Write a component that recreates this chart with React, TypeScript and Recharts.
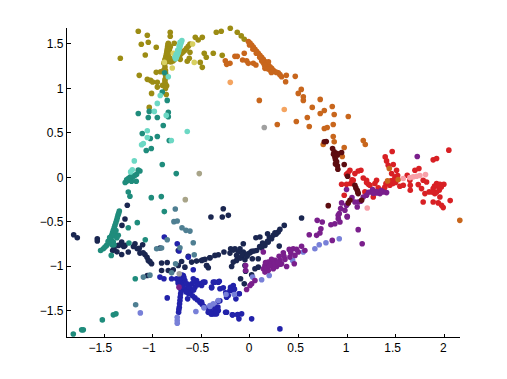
import React from "react";
import { ScatterChart, Scatter, XAxis, YAxis } from "recharts";

type P = [number, number];

const xTicks = [-1.5, -1, -0.5, 0, 0.5, 1, 1.5, 2];
const yTicks = [-1.5, -1, -0.5, 0, 0.5, 1, 1.5];

const navy: P[] = [
  [-0.275,-0.354],[-0.402,-0.448],[-0.285,-0.448],[-0.223,-0.429],[0.531,-0.459],[0.353,-0.542],[0.308,-0.587],[0.291,-0.617],[0.257,-0.624],[0.181,-0.636],[0.102,-0.673],[0.061,-0.681],[-0.069,-0.748],[0.301,-0.775],[0.24,-0.654],[0.222,-0.692],[0.188,-0.73],[0.154,-0.767],[0.12,-0.797],[0.068,-0.824],[0.017,-0.835],[-0.018,-0.861],[-0.069,-0.842],[-0.103,-0.805],[-0.155,-0.805],[-0.199,-0.805],[-0.206,-0.854],[-0.268,-0.842],[-0.326,-0.872],[-0.361,-0.88],[-0.412,-0.906],[-0.464,-0.925],[-0.498,-0.936],[-0.446,-0.993],[-0.429,-1.019],[-0.138,-0.88],[-0.086,-0.899],[-0.138,-0.936],[-0.172,-0.955],[-0.189,-1.004],[-0.052,-0.929],[0.024,-0.918],[0.085,-0.918],[-0.052,-0.993],[-0.045,-1.057],[0.051,-1.03],[0.085,-1.012],[-0.097,-1.143],[-0.059,-1.2],[0.017,-1.098],
  [-1.815,-0.647],[-1.778,-0.681],[-1.572,-0.692],[-1.572,-0.718],[-1.263,-0.316],[-1.287,-0.47],[-1.318,-0.542],[-1.321,-0.73],[-1.287,-0.767],[-1.356,-0.767],[-1.414,-0.824],[-1.321,-0.869],[-1.253,-0.842],[-1.184,-0.748],[-1.105,-0.76],[-1.16,-0.805],[-1.133,-0.854],[-1.081,-0.869],[-1.047,-0.936],[-1.013,-0.974],[-1.057,-1.106],[-0.91,-0.966],[-0.852,-0.959],[-0.704,-0.948],[-0.635,-0.891],[-0.738,-0.824],[-0.927,-0.797],[-0.91,-1.049],[-0.841,-1.049],[-0.79,-1.042],[-0.738,-0.993],[-0.67,-1.012],[-0.601,-0.955],[-0.55,-0.944],[-0.481,-0.929],[-0.447,-0.993],[-0.413,-0.906],
  [0.18,-0.72],[0.1,-0.78],[0.04,-0.83],[0,-0.85],[-0.04,-0.87],[-0.12,-0.84],[-0.17,-0.82],[-0.1,-0.91],[-0.08,-0.87],[-0.03,-0.89],[0.13,-0.74],[0.27,-0.64],[0.2,-0.68],[-1.33,-0.76],[-1.3,-0.78],[-1.4,-0.8],[-1.37,-0.84],[-1.2,-0.78],[-1.14,-0.8],[-1.1,-0.85],[-1.06,-0.9],[-1.03,-0.95],
];

const blue: P[] = [
  [-0.481,-1.181],[-0.498,-1.218],[-0.378,-1.181],[-0.326,-1.181],[-0.395,-1.245],[-0.309,-1.256],[-0.275,-1.245],[-0.172,-1.218],[-0.206,-1.275],[-0.241,-1.35],[-0.11,-1.312],[-0.145,-1.369],[-0.498,-1.406],[-0.429,-1.482],[-0.395,-1.538],[-0.361,-1.538],[-0.344,-1.463],[-0.326,-1.5],[-0.241,-1.519],[-0.182,-1.549],[-0.127,-1.546],[-0.086,-1.538],[-0.114,-1.594],[0.017,-1.594],[0.308,-1.707],
  [-0.882,-0.673],[-0.749,-0.748],[-0.731,-0.831],[-0.635,-0.899],[-0.584,-1.042],[-0.927,-1.124],[-0.886,-1.143],[-0.807,-1.143],[-0.852,-1.358],
  [-0.694,-1.162],[-0.704,-1.237],[-0.714,-1.312],[-0.721,-1.388],[-0.728,-1.463],[-0.735,-1.519],[-0.699,-1.2],[-0.709,-1.275],[-0.718,-1.35],[-0.725,-1.425],[-0.732,-1.49],
  [-0.756,-1.143],[-0.714,-1.2],[-0.67,-1.256],[-0.618,-1.312],[-0.567,-1.358],[-0.515,-1.406],[-0.474,-1.455],[-0.735,-1.17],[-0.692,-1.228],[-0.644,-1.284],[-0.592,-1.335],[-0.541,-1.382],[-0.494,-1.43],
  [-0.464,-1.181],[-0.515,-1.2],[-0.567,-1.237],[-0.601,-1.275],[-0.635,-1.305],[-0.55,-1.162],[-0.584,-1.143],[-0.67,-1.162],[-0.642,-1.369],[-0.687,-1.106],[-0.395,-1.237],[-0.361,-1.181],[-0.316,-1.17],[-0.43,-1.519],[-0.378,-1.538],[-0.344,-1.538],[-0.327,-1.395],[-0.251,-1.519],[-0.186,-1.275],[-0.224,-1.331],[-0.179,-1.549],[-0.128,-1.549],[-0.111,-1.312],
  [-0.7,-1.1],[-0.72,-1.14],[-0.74,-1.19],[-0.68,-1.13],[-0.65,-1.2],[-0.63,-1.23],[-0.6,-1.2],[-0.57,-1.18],[-0.54,-1.21],[-0.49,-1.19],[-0.62,-1.25],[-0.58,-1.27],[-0.66,-1.29],[-0.41,-1.5],[-0.36,-1.5],[-0.33,-1.46],[-0.37,-1.46],[-0.4,-1.54],[-0.25,-1.3],[-0.2,-1.24],[-0.16,-1.26],[-0.31,-1.39],
];

const lightBlue: P[] = [
  [0.919,-0.692],[0.782,-0.737],[0.713,-0.76],[0.668,-0.805],[0.548,-0.842],[0.439,-0.936],[0.198,-1.106],[0.12,-1.154],[0.027,-1.124],[-0.162,-1.32],[-0.247,-1.32],[-0.326,-1.388],[-0.378,-1.425],[-0.412,-1.444],[-0.474,-1.47],[-0.749,-1.576],[-0.749,-1.613],[-0.749,-1.643],[-0.557,-1.512],[-1.129,-1.527],[-0.412,-1.455],
];

const slate: P[] = [
  [-0.769,-0.357],[-0.783,-0.5],[-0.749,-0.493],[-0.7,-0.568],[-0.659,-0.598],[-0.618,-0.606],[-0.584,-0.737],[-0.574,-0.872],[-0.852,-0.703],[-0.961,-0.805],[-0.91,-0.797],[-0.721,-0.794],[-1.098,-1.124],[-1.03,-1.102],[-1.177,-1.436],[-0.766,-0.974],[-0.807,-1.076],
];

const olive: P[] = [
  [-1.335,1.339],[-1.15,1.643],[-1.057,1.598],[-1.119,1.497],[-1.047,1.519],[-1.078,1.376],[-0.965,1.463],[-0.821,1.632],[-0.821,1.587],[-0.78,1.508],[-0.563,1.575],[-0.533,1.545],[-0.491,1.575],[-0.347,1.632],[-0.296,1.643],[-0.203,1.677],[-0.131,1.632],[-0.09,1.591],[-0.059,1.553],[-0.378,1.395],[-0.286,1.372],[-0.471,1.395],[-0.45,1.35],[-0.512,1.293],[-0.491,1.237],[-0.618,1.406],[-0.625,1.339],[-0.646,1.305],[-0.718,1.327],
  [-0.841,1.508],[-0.848,1.47],[-0.852,1.433],[-0.858,1.395],[-0.865,1.357],[-0.876,1.32],[-0.886,1.282],[-0.831,1.414],[-0.841,1.357],[-0.824,1.339],
  [-0.618,1.5],[-0.653,1.451],[-0.687,1.414],[-0.721,1.376],[-0.756,1.35],[-0.79,1.312],[-0.824,1.301],
  [-0.92,1.188],[-0.965,1.181],[-1.14,1.147],[-1.057,1.102],[-1.023,1.09],[-1.002,1.072],[-0.954,1.068],[-0.954,1.015],[-0.9,1.034],[-0.858,1.03],[-0.865,1.124],[-0.869,1.169],[-0.876,1.075],[-0.886,1.207],[-1.013,0.944],[-0.862,0.932],[-1.037,0.786],
  [-0.845,1.49],[-0.85,1.45],[-0.855,1.415],[-0.862,1.375],[-0.87,1.34],[-0.88,1.3],[-0.82,1.47],[-0.83,1.44],[-0.84,1.39],[-0.85,1.33],[-0.86,1.3],[-0.635,1.475],[-0.67,1.43],[-0.704,1.395],[-0.738,1.36],[-0.773,1.33],[-0.81,1.3],[-0.875,1.24],[-0.87,1.2],[-0.87,1.15],[-0.875,1.1],[-0.87,1.05],[-0.87,1],
];

const paleYellow: P[] = [[-0.591,1.5],[-0.79,1.395],[-0.882,1.293],[-0.8,1.23],[-0.574,1.293]];

const teal: P[] = [
  [-0.879,1.177],[-0.903,0.959],[-0.852,0.865],[-1.15,0.718],[-1.037,0.741],[-1.047,0.673],[-0.954,0.673],[-0.841,0.73],[-0.841,0.681],[-0.893,0.583],[-1.109,0.493],[-1.026,0.436],[-0.954,0.459],[-0.831,0.414],[-1.068,0.301],[-1.016,0.323],[-0.903,0.143],[-0.759,0.041],[-1.133,0.071],[-1.167,0.034],[-1.201,0.011],[-1.253,-0.015],
  [-1.345,-0.38],[-1.359,-0.429],[-1.373,-0.485],[-1.39,-0.542],[-1.407,-0.598],[-1.424,-0.654],[-1.441,-0.711],[-1.476,-0.767],[-1.51,-0.805],[-1.538,-0.824],[-1.39,-0.636],[-1.356,-0.654],[-1.407,-0.73],[-1.428,-0.88],[-1.253,-0.568],[-1.16,-0.511],[-1.246,-0.741],[-1.078,-0.703],[-1.016,-0.23],[-0.913,-0.218],[-0.882,-0.387],[-1.253,-0.166],[-1.236,-0.214],[-1.27,-0.045],[-1.171,-0.045],[-1.181,-1.143],[-1.52,-1.606],[-1.407,-1.549],[-1.38,-1.538],[-1.733,-1.718],[-1.716,-1.718],[-1.819,-1.764],[-1.219,-0.045],
  [-1.352,-0.405],[-1.366,-0.457],[-1.381,-0.513],[-1.398,-0.57],[-1.415,-0.626],[-1.432,-0.682],[-1.458,-0.74],[-1.493,-0.786],[-1.38,-0.6],[-1.4,-0.66],[-1.42,-0.72],[-1.37,-0.68],[-1.445,-0.68],[-1.46,-0.72],[-1.42,-0.76],[-1.4,-0.76],[-1.15,0.08],[-1.185,0.02],[-1.22,-0.005],[-1.235,0],[-1.27,-0.03],[-1.285,-0.06],[-1.25,-0.03],[-1.22,0.02],
];

const lightTeal: P[] = [
  [-0.701,1.538],[-0.714,1.5],[-0.728,1.451],[-0.738,1.402],[-0.756,1.357],[-0.766,1.335],[-0.841,1.132],[-0.924,0.921],[-0.954,0.831],[-0.985,0.741],[-0.862,0.696],[-1.057,0.523],[-1.057,0.447],[-1.098,0.38],[-1.116,0.365],[-0.81,0.414],[-0.646,0.515],[-1.191,0.184],[-1.212,0.083],[-1.229,0.06],
  [-0.708,1.52],[-0.72,1.475],[-0.733,1.425],[-0.747,1.38],[-0.76,1.345],[-0.72,1.52],[-0.73,1.48],[-0.745,1.43],[-0.76,1.385],[-0.772,1.35],
];

const orange: P[] = [
  [-0.017,1.527],[0.017,1.489],[0.051,1.44],[0.085,1.395],[0.12,1.35],[0.154,1.301],[0.188,1.263],[0.223,1.226],[0.257,1.188],[0.291,1.177],[0.326,1.132],[0.137,1.327],[0.171,1.282],[0.154,1.226],[0.206,1.207],[0.374,1.147],[0.466,1.136],[0.367,1.075],
  [-0.155,1.361],[-0.131,1.361],[-0.059,1.395],[-0.254,1.312],[-0.206,1.282],[-0.24,1.271],[-0.076,1.32],[-0.035,1.312],[-0.017,1.282],[0.034,1.282],[0.061,1.263],
  [0.528,0.989],[0.497,0.944],[0.549,0.906],[0.549,0.865],[0.723,0.876],[0.847,0.797],[0.765,0.752],[0.723,0.718],[0.641,0.786],[0.867,0.707],[1.012,0.684],[0.59,0.673],[0.477,0.628],[0.61,0.572],[0.857,0.594],[0.795,0.56],[0.765,0.549],[0.281,0.594],[0.096,0.865],
  [0.857,0.459],[0.867,0.399],[0.754,0.368],[1.166,0.414],[1.187,0.368],[0.97,0.335],[0.95,0.233],[2.16,-0.485],
  [0,1.51],[0.034,1.465],[0.068,1.418],[0.102,1.372],[0.137,1.29],[0.171,1.245],[0.206,1.244],[0.24,1.205],[0.274,1.18],[0.308,1.155],[0.12,1.31],[0.19,1.3],[0.15,1.26],[0.18,1.22],[-0.005,1.49],[0.03,1.44],[0.065,1.395],[0.1,1.35],[0.22,1.18],
];

const lightOrange: P[] = [[-0.203,1.068],[0.353,0.763]];

const red: P[] = [
  [1.464,0.29],[1.392,0.229],[1.406,0.184],[1.423,0.135],[1.475,0.143],[1.509,0.079],[1.458,0.041],[1.492,0.004],[1.475,-0.034],[1.44,-0.09],[1.389,-0.109],[1.338,-0.147],[1.303,-0.034],[1.286,-0.071],[1.2,-0.034],[1.166,-0.008],[1.235,-0.09],[1.142,0.079],[1.114,0.071],[1.08,0.041],[1.029,0.079],[0.994,0.034],[1.063,-0.034],[1.036,-0.071],[0.994,-0.079],[0.943,-0.079],[0.97,-0.203],[1.269,-0.222],[1.183,-0.165],
  [1.619,0.023],[1.698,0.079],[1.739,0.098],[1.886,0.196],[1.921,0.211],[2.047,0.305],[1.646,-0.034],[1.65,-0.09],[1.65,-0.147],[1.543,-0.101],[1.578,-0.09],[1.783,-0.034],[1.818,-0.053],[1.732,-0.083],[1.766,-0.128],[1.801,-0.184],[1.845,-0.165],[1.886,-0.128],[1.921,-0.071],[1.955,-0.079],[1.996,-0.079],[1.948,-0.147],[1.903,-0.184],[1.955,-0.222],[1.783,-0.278],[1.886,-0.278],[1.938,-0.289],[1.972,-0.316],[1.989,-0.342],[2.061,-0.263],
  [1.47,-0.07],[1.4,-0.07],[1.45,-0.04],[1.5,-0.06],[1.52,0.02],[1.38,-0.13],[1.32,-0.12],[1.9,-0.1],[1.93,-0.1],[1.97,-0.11],[1.92,-0.17],[1.88,-0.17],[1.2,-0.06],[1.22,-0.08],[1.01,0.05],[1.05,-0.03],
];

const orangeOnRed: P[] = [[1.434,0.098],[1.416,-0.041],[1.526,-0.026]];

const pink: P[] = [[1.578,-0.015],[1.646,-0.004],[1.68,0.004],[1.715,0.011],[1.749,0.019],[1.807,0.03],[1.207,-0.346]];

const purple: P[] = [
  [1.722,0.233],[0.994,-0.139],[1.406,-0.173],[1.372,-0.165],[1.338,-0.184],[1.303,-0.177],[1.262,-0.139],[1.252,-0.165],[1.2,-0.203],[1.166,-0.222],[1.114,-0.278],[1.08,-0.278],[1.104,-0.335],[0.994,-0.316],[0.943,-0.289],[0.933,-0.353],[0.919,-0.41],[0.909,-0.466],[0.977,-0.372],[1.001,-0.447],
  [0.692,-0.485],[0.744,-0.504],[0.73,-0.579],[0.686,-0.654],[0.61,-0.647],[0.72,-0.628],[0.874,-0.523],[0.833,-0.534],[0.926,-0.504],[1.001,-0.44],[0.908,-0.429],[1.114,-0.59],[1.155,-0.748],[0.847,-0.711],
  [0.531,-0.778],[0.565,-0.824],[0.445,-0.805],[0.404,-0.812],[0.343,-0.85],[0.497,-0.842],[0.463,-0.88],[0.411,-0.899],[0.36,-0.925],[0.308,-0.936],[0.257,-0.936],[0.222,-0.925],[0.188,-0.955],[0.154,-0.993],[0.137,-1.03],[0.154,-1.068],[0.188,-1.049],[0.24,-1.03],[0.274,-1.004],[0.325,-0.974],[0.377,-1.004],[0.456,-0.974],[0.137,-0.842],[-0.045,-0.993],[-0.045,-1.049],[0.051,-1.162],[0.017,-1.2],[-0.035,-1.263],[0,-1.218],[-0.731,-1.237],
  [0.3,-0.89],[0.27,-0.97],[0.2,-0.97],[0.17,-1.02],[0.22,-0.98],[0.35,-0.89],[0.42,-0.85],[0.48,-0.81],[0.24,-0.99],[0.31,-0.98],[0.16,-0.96],[0.2,-1],[0.29,-0.96],[1.05,-0.23],[1.14,-0.27],[1.22,-0.17],[1.3,-0.16],[1.35,-0.15],[1.27,-0.18],
];

const maroon: P[] = [
  [0.785,0.402],[0.765,0.399],[0.85,0.323],[0.867,0.286],[0.874,0.229],[0.892,0.173],[0.943,0.278],[0.898,0.267],[0.97,0.143],[0.905,0.09],[1.005,0.011],[1.08,-0.09],[1.104,-0.147],[1.114,-0.184],[1.149,-0.259],[1.029,-0.259],[1.012,-0.289],[0.806,-0.32],
  [0.86,0.26],[0.88,0.2],[0.9,0.25],[0.88,0.15],[0.9,0.13],[1.09,-0.12],[1.11,-0.17],
];

const paleGrey: P[] = [[0.147,0.56],[-0.728,-1.087]];
const tanGrey: P[] = [[-0.522,0.041],[-0.666,-0.252]];

const seriesList: { name: string; points: P[]; color: string }[] = [
  { name: "navy", points: navy, color: "#1a2650" },
  { name: "blue", points: blue, color: "#2222aa" },
  { name: "lightBlue", points: lightBlue, color: "#7880d8" },
  { name: "slate", points: slate, color: "#4f7f92" },
  { name: "olive", points: olive, color: "#9c8c14" },
  { name: "paleYellow", points: paleYellow, color: "#d8d060" },
  { name: "teal", points: teal, color: "#1f8c7c" },
  { name: "lightTeal", points: lightTeal, color: "#6cd8c4" },
  { name: "orange", points: orange, color: "#c8661c" },
  { name: "lightOrange", points: lightOrange, color: "#f4a460" },
  { name: "red", points: red, color: "#d82024" },
  { name: "orangeOnRed", points: orangeOnRed, color: "#c8661c" },
  { name: "pink", points: pink, color: "#f8a0a8" },
  { name: "purple", points: purple, color: "#7a1f8c" },
  { name: "maroon", points: maroon, color: "#5c0c10" },
  { name: "paleGrey", points: paleGrey, color: "#a0a0a0" },
  { name: "tanGrey", points: tanGrey, color: "#a8a488" },
];

const fontFamily = "'Liberation Sans', Arial, sans-serif";
const fmt = (v: number) => String(v).replace("-", "\u2212");
const yTickStyle = { fill: "#000", fontSize: 12, fontFamily };
const Dot = (p: any) => <circle cx={p.cx} cy={p.cy} r={2.8} fill={p.fill} />;

const XTick = (p: any) => {
  const v: number = p.payload.value;
  const dx = v < 0 ? -4 : Number.isInteger(v) ? -1 : -3;
  return (
    <text x={p.x + dx} y={p.y + 11} textAnchor="middle" fontSize={12} fontFamily={fontFamily} fill="#000">
      {fmt(v)}
    </text>
  );
};

const lineStyle = { stroke: "#000", shapeRendering: "crispEdges" as const };

export default function App() {
  return (
    <div style={{ position: "absolute", left: 0, top: 0, background: "#fff" }}>
      <ScatterChart width={507} height={379} margin={{ top: 28, right: 47, bottom: 0, left: 0 }}>
        <XAxis type="number" dataKey="x" domain={[-1.889, 2.162]} ticks={xTicks} interval={0} height={41.5}
          tickSize={-4} tickMargin={7} tick={XTick}
          axisLine={lineStyle} tickLine={lineStyle} />
        <YAxis type="number" dataKey="y" domain={[-1.804, 1.68]} ticks={yTicks} interval={0} width={66.5}
          tickSize={-4} tickMargin={7} tick={yTickStyle} tickFormatter={fmt}
          axisLine={lineStyle} tickLine={lineStyle} />
        {seriesList.map((s) => (
          <Scatter key={s.name} name={s.name} data={s.points.map(([x, y]) => ({ x, y }))}
            fill={s.color} shape={Dot} isAnimationActive={false} />
        ))}
      </ScatterChart>
    </div>
  );
}
